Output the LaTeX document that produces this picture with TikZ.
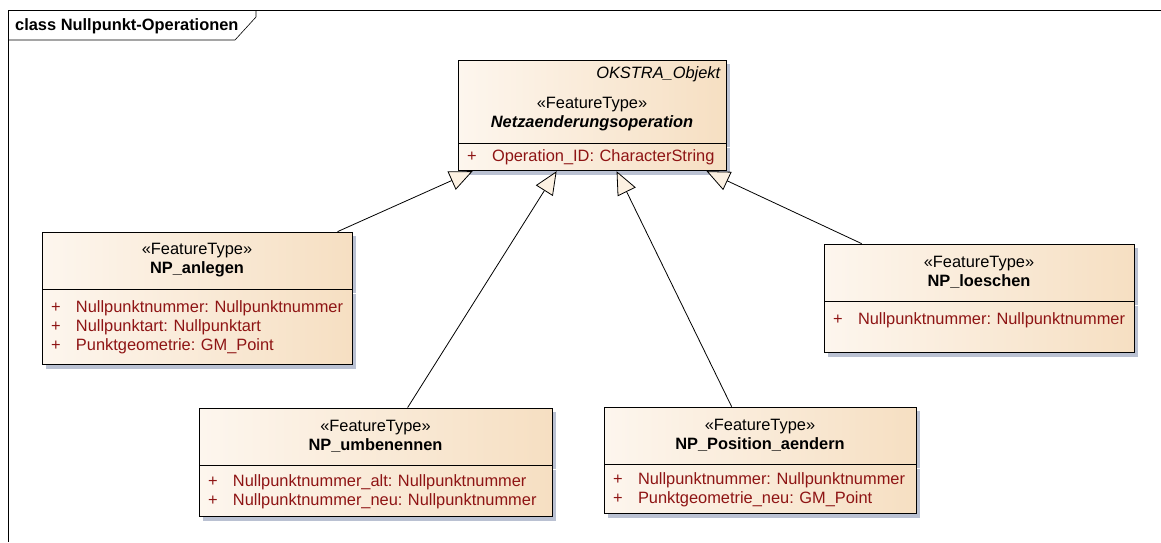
\documentclass[tikz,border=0pt]{standalone}
\usepackage{fontspec}
\setmainfont{Liberation Sans}
\usetikzlibrary{positioning,shadows,arrows.meta}
\definecolor{boxleft}{HTML}{FDF6EE}
\definecolor{boxright}{HTML}{F6DFC2}
\definecolor{shadowgray}{HTML}{BAC1D2}
\definecolor{attrred}{HTML}{8E1414}
\definecolor{tipfill}{HTML}{FCF1E2}
\newcommand{\umlsize}{\fontsize{16.4}{19}\selectfont}
\newcommand{\attr}[1]{\makebox[25pt][l]{+}\mbox{#1}}
\frenchspacing

\begin{document}
\begin{tikzpicture}[x=1pt, y=-1pt, font=\umlsize,
    head/.style={draw, line width=0.8pt, left color=boxleft, right color=boxright,
      general shadow={fill=shadowgray, shadow xshift=4pt, shadow yshift=-4pt},
      inner sep=0pt, align=center},
    attrs/.style={head, align=left, text=attrred, inner xsep=9pt, inner ysep=0pt},
    gen/.style={-{Triangle[open, fill=tipfill, length=23pt, width=20pt]}, line width=0.8pt}]
  \useasboundingbox[fill=white] (0,0) rectangle (1161,542);
  \draw[line width=0.6pt] (1161,10) -- (8,10) -- (8,542);
  \node[anchor=west, font=\umlsize\bfseries, inner sep=0pt] (title) at (15,26) {class Nullpunkt-Operationen};
  \draw[line width=0.6pt] (8,40) -- (235,40) -- (256,17) -- (256,10);

  \node[head, minimum width=268pt, minimum height=83pt] (mainhead) at (592,101.5) {};
  \node[anchor=north east, font=\umlsize\itshape, inner xsep=6pt, inner ysep=7pt] (owner) at (mainhead.north east) {OKSTRA\_Objekt};
  \node[align=center] (mainname) at (592,114) {«FeatureType»\\\textbf{\textit{Netzaenderungsoperation}}};
  \node[attrs, text width=250pt, minimum height=27pt, below=0pt of mainhead] (mainattr) {\attr{Operation\_ID: CharacterString}};

  \node[head, minimum width=310pt, minimum height=57pt] (anlegen) at (197,260.5) {«FeatureType»\\\textbf{NP\_anlegen}};
  \node[attrs, text width=292pt, minimum height=75pt, below=0pt of anlegen] (anlegenattr) {\attr{Nullpunktnummer: Nullpunktnummer}\\\attr{Nullpunktart: Nullpunktart}\\\attr{Punktgeometrie: GM\_Point}};

  \node[head, minimum width=310pt, minimum height=57pt] (loeschen) at (979,272.5) {«FeatureType»\\\textbf{NP\_loeschen}};
  \node[attrs, text width=292pt, minimum height=51pt, text depth=18pt, below=0pt of loeschen] (loeschenattr) {\attr{Nullpunktnummer: Nullpunktnummer}};

  \node[head, minimum width=353pt, minimum height=57pt] (umbenennen) at (375.5,436.5) {«FeatureType»\\\textbf{NP\_umbenennen}};
  \node[attrs, text width=335pt, minimum height=51pt, below=0pt of umbenennen] (umbenennenattr) {\attr{Nullpunktnummer\_alt: Nullpunktnummer}\\\attr{Nullpunktnummer\_neu: Nullpunktnummer}};

  \node[head, minimum width=312pt, minimum height=57pt] (npposition) at (760,435.5) {«FeatureType»\\\textbf{NP\_Position\_aendern}};
  \node[attrs, text width=294pt, minimum height=49pt, below=0pt of npposition] (nppositionattr) {\attr{Nullpunktnummer: Nullpunktnummer}\\\attr{Punktgeometrie\_neu: GM\_Point}};

  \draw[gen] ([xshift=296pt]anlegen.north west) -- ([xshift=15pt]mainattr.south west);
  \draw[gen] ([xshift=209pt]umbenennen.north west) -- ([xshift=99pt]mainattr.south west);
  \draw[gen] ([xshift=128pt]npposition.north west) -- ([xshift=159pt]mainattr.south west);
  \draw[gen] ([xshift=38pt]loeschen.north west) -- ([xshift=249pt]mainattr.south west);
\end{tikzpicture}
\end{document}
